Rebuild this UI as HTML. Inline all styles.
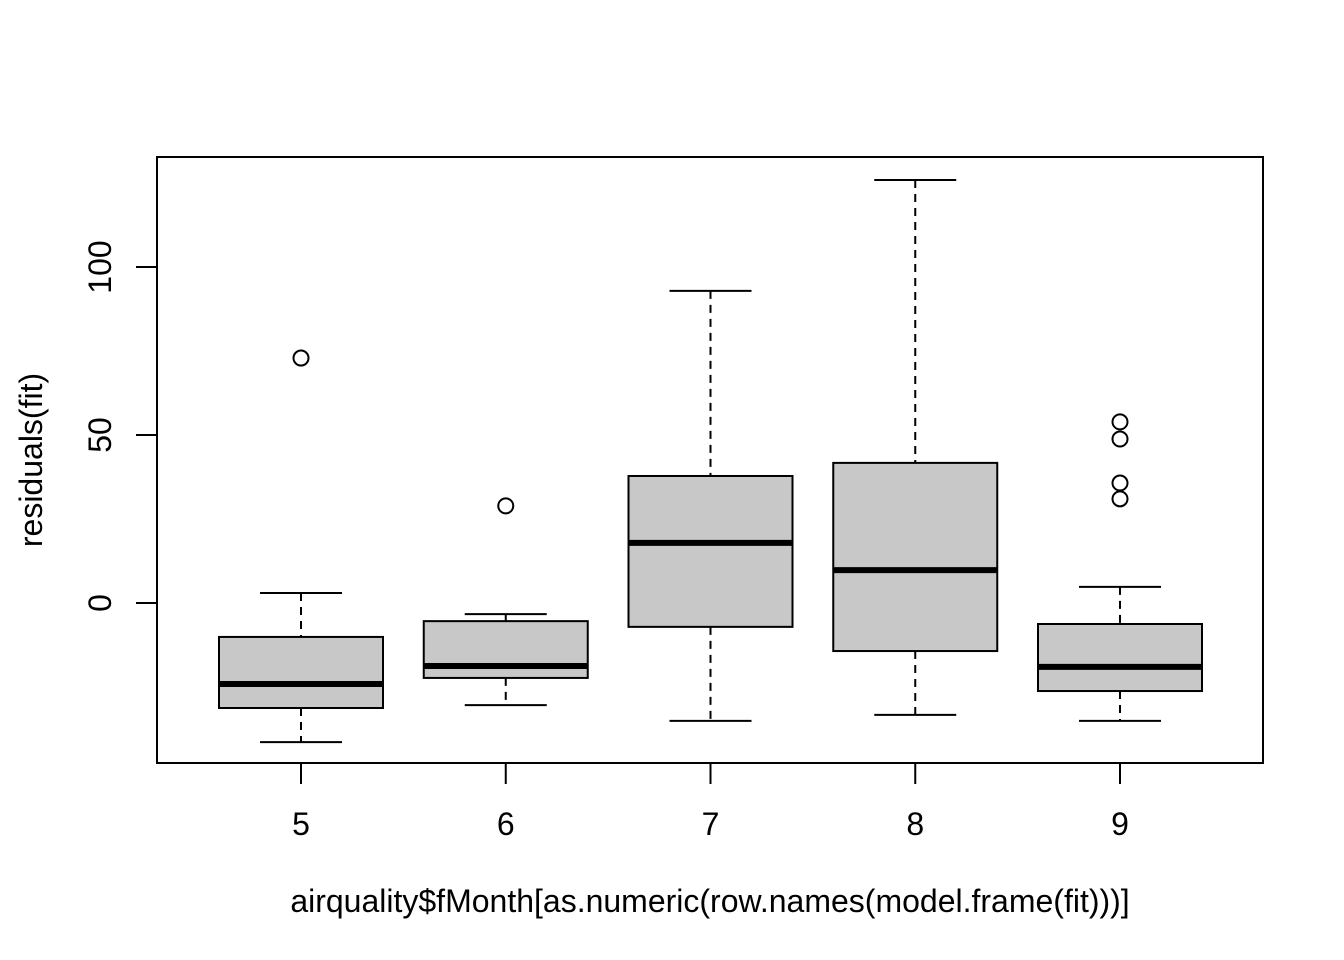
<!DOCTYPE html>
<html><head><meta charset="utf-8"><style>body{margin:0;background:#fff}svg{display:block}text{font-family:"Liberation Sans",Arial,sans-serif;fill:#000}</style></head>
<body>
<svg id="chart" width="1344" height="960"></svg>
<script>
const categories=["5","6","7","8","9"];
const whiskerLow=[-41.4,-30.4,-35.1,-33.3,-35.1];
const q1=[-31.25,-22.3,-7.1,-14.3,-26.2];
const medians=[-24.1,-18.75,17.9,9.8,-19.0];
const q3=[-10.1,-5.4,37.8,41.7,-6.25];
const whiskerHigh=[2.98,-3.3,92.9,125.9,4.8];
const outliers=[[72.9],[28.9],[],[],[53.9,48.8,35.7,31.0]];
const yTicks=[0,50,100];
const NS="http://www.w3.org/2000/svg";
const svg=document.getElementById('chart');
const L=157,R=1263,T=157,B=763;
const FS=32;
function y(v){return 603-v*3.36;}
function x(i){return 301+i*204.75;}
function mk(tag,a,p){const e=document.createElementNS(NS,tag);for(const k in a)e.setAttribute(k,a[k]);(p||svg).appendChild(e);return e;}
const plot=mk('g',{});


categories.forEach((c,i)=>{
 const cx=x(i),hw=82,cw=41;
 const g=mk('g',{stroke:'#000','stroke-width':2,fill:'none'},plot);
 
 
 mk('line',{x1:cx,x2:cx,y1:y(whiskerHigh[i]),y2:y(q3[i]),'stroke-dasharray':'8,6'},g);
 mk('line',{x1:cx,x2:cx,y1:y(q1[i]),y2:y(whiskerLow[i]),'stroke-dasharray':'8,6'},g);
 mk('line',{x1:cx-cw,x2:cx+cw,y1:y(whiskerHigh[i]),y2:y(whiskerHigh[i])},g);
 mk('line',{x1:cx-cw,x2:cx+cw,y1:y(whiskerLow[i]),y2:y(whiskerLow[i])},g);
 mk('rect',{x:cx-hw,y:y(q3[i]),width:2*hw,height:y(q1[i])-y(q3[i]),fill:'#c8c8c8'},g);
 mk('line',{x1:cx-hw,x2:cx+hw,y1:y(medians[i]),y2:y(medians[i]),'stroke-width':6},g);
 outliers[i].forEach(o=>{const p=mk('circle',{cx:cx,cy:y(o),r:7.5},g);
  
  });
 mk('line',{x1:cx,x2:cx,y1:B,y2:B+21,stroke:'#000','stroke-width':2});
 const lb=mk('text',{x:cx,y:835,'font-size':FS,'text-anchor':'middle'});lb.textContent=c;
 
 
});
yTicks.forEach(v=>{
 mk('line',{x1:L-21,x2:L,y1:y(v),y2:y(v),stroke:'#000','stroke-width':2});
 const t=mk('text',{x:0,y:0,'font-size':FS,'text-anchor':'middle',transform:`translate(111,${y(v)}) rotate(-90)`});t.textContent=v;
 
 
});
mk('line',{x1:L,x2:L,y1:y(-40),y2:y(100),stroke:'#000','stroke-width':2});
const fr=mk('rect',{x:L,y:T,width:R-L,height:B-T,fill:'none',stroke:'#000','stroke-width':2});


const xt=mk('text',{x:710,y:912,'font-size':FS,'text-anchor':'middle'});xt.textContent='airquality$fMonth[as.numeric(row.names(model.frame(fit)))]';


const yt=mk('text',{x:0,y:0,'font-size':FS,'text-anchor':'middle',transform:'translate(42,460) rotate(-90)'});yt.textContent='residuals(fit)';


</script>
</body></html>
